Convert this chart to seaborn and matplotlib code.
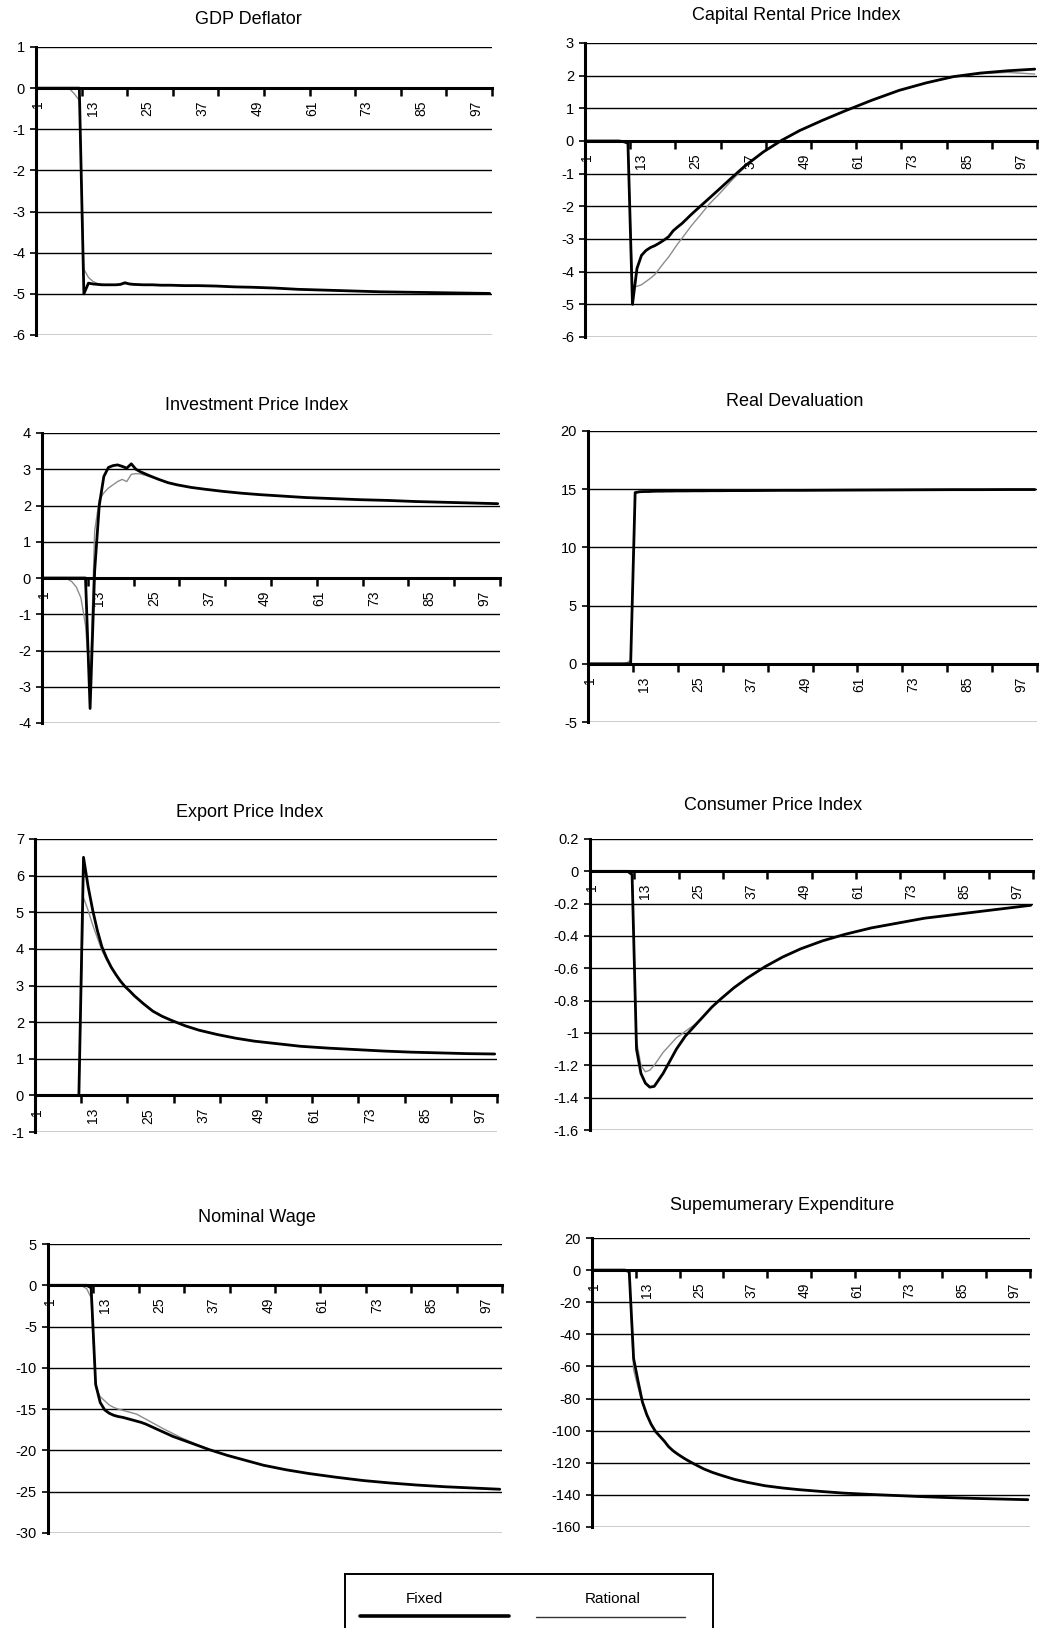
import numpy as np
import pandas as pd
import matplotlib
matplotlib.use("Agg")
import matplotlib.pyplot as plt
from matplotlib.ticker import FixedLocator, FuncFormatter, NullFormatter
import seaborn as sns

sns.set_theme(style="white")
plt.rcParams["font.family"] = ["Liberation Sans", "DejaVu Sans"]
plt.rcParams["axes.unicode_minus"] = False

# ---------------- data ----------------
periods = [1, 6, 7, 8, 9, 10, 11, 12, 13, 14, 15, 16, 17, 18, 19, 20, 21, 22,
           24, 26, 28, 30, 33, 36, 40, 44, 48, 53, 58, 64, 70, 76, 82, 88, 94, 100]
xtick_labels = [1, 13, 25, 37, 49, 61, 73, 85, 97]

gdp_fixed = [0, 0, 0, 0, 0, 0, -5.0, -4.74, -4.76, -4.77, -4.78, -4.78, -4.78, -4.78, -4.77, -4.73, -4.76, -4.77,
             -4.78, -4.78, -4.79, -4.79, -4.80, -4.80, -4.81, -4.83, -4.84, -4.86, -4.89, -4.91, -4.93, -4.95, -4.96, -4.97, -4.98, -4.99]
gdp_rational = [0, 0, 0, -0.03, -0.15, -0.3, -4.4, -4.6, -4.7, -4.75, -4.77, -4.78, -4.78, -4.78, -4.78, -4.75, -4.77, -4.78,
                -4.78, -4.78, -4.79, -4.79, -4.80, -4.80, -4.81, -4.83, -4.84, -4.86, -4.89, -4.91, -4.93, -4.95, -4.96, -4.97, -4.98, -4.99]

cap_fixed = [0, 0, 0, 0, -0.02, -0.06, -5.0, -3.9, -3.5, -3.35, -3.26, -3.2, -3.12, -3.03, -2.93, -2.75, -2.63, -2.52,
             -2.25, -2.0, -1.75, -1.5, -1.12, -0.75, -0.33, 0.02, 0.32, 0.63, 0.92, 1.25, 1.55, 1.78, 1.97, 2.08, 2.15, 2.2]
cap_rational = [0, 0, 0, 0, -0.02, -0.1, -4.45, -4.45, -4.4, -4.3, -4.2, -4.08, -3.9, -3.72, -3.55, -3.35, -3.15, -2.97,
                -2.6, -2.27, -1.93, -1.65, -1.2, -0.78, -0.34, 0.02, 0.32, 0.63, 0.92, 1.25, 1.55, 1.78, 1.96, 2.06, 2.1, 2.05]

inv_fixed = [0, 0, 0, 0, 0, 0, -3.6, 0.2, 2.0, 2.8, 3.05, 3.1, 3.12, 3.08, 3.03, 3.15, 3.0, 2.93,
             2.82, 2.72, 2.63, 2.57, 2.5, 2.45, 2.39, 2.34, 2.3, 2.26, 2.22, 2.19, 2.16, 2.14, 2.11, 2.09, 2.07, 2.05]
inv_rational = [0, -0.02, -0.1, -0.25, -0.55, -1.3, -3.0, 1.3, 2.15, 2.35, 2.48, 2.57, 2.66, 2.72, 2.66, 2.86, 2.88, 2.87,
                2.8, 2.72, 2.63, 2.57, 2.5, 2.45, 2.39, 2.34, 2.3, 2.26, 2.22, 2.19, 2.16, 2.14, 2.11, 2.09, 2.07, 2.05]

dev_fixed = [0, 0, 0, 0, 0, 0, 14.7, 14.78, 14.8, 14.8, 14.82, 14.83, 14.83, 14.84, 14.84, 14.85, 14.85, 14.85,
             14.86, 14.86, 14.87, 14.87, 14.88, 14.88, 14.89, 14.9, 14.9, 14.91, 14.92, 14.93, 14.94, 14.95, 14.96, 14.96, 14.97, 14.97]
dev_rational = [0, 0, 0, 0, 0.05, 0.3, 14.8, 14.8, 14.81, 14.82, 14.83, 14.84, 14.84, 14.85, 14.85, 14.86, 14.86, 14.86,
                14.87, 14.87, 14.88, 14.88, 14.89, 14.89, 14.9, 14.91, 14.91, 14.92, 14.93, 14.94, 14.95, 14.96, 14.97, 14.97, 14.98, 14.98]

exp_fixed = [0, 0, 0, 0, 0, 0, 6.5, 5.7, 5.05, 4.5, 4.05, 3.75, 3.5, 3.3, 3.12, 2.97, 2.85, 2.72,
             2.5, 2.3, 2.16, 2.05, 1.9, 1.78, 1.66, 1.56, 1.48, 1.41, 1.34, 1.29, 1.25, 1.21, 1.18, 1.16, 1.14, 1.13]
exp_rational = [0, 0, 0, 0, 0, 0, 5.4, 5.05, 4.65, 4.3, 3.95, 3.7, 3.48, 3.3, 3.12, 2.97, 2.85, 2.72,
                2.5, 2.3, 2.16, 2.05, 1.9, 1.78, 1.66, 1.56, 1.48, 1.41, 1.34, 1.29, 1.25, 1.21, 1.18, 1.16, 1.14, 1.13]

cpi_fixed = [0, 0, 0, 0, 0, -0.02, -1.1, -1.25, -1.31, -1.335, -1.33, -1.29, -1.25, -1.2, -1.15, -1.1, -1.06, -1.02,
             -0.96, -0.9, -0.84, -0.79, -0.72, -0.66, -0.59, -0.53, -0.48, -0.43, -0.39, -0.35, -0.32, -0.29, -0.27, -0.25, -0.23, -0.21]
cpi_rational = [0, 0, 0, 0, 0, -0.02, -1.05, -1.2, -1.24, -1.23, -1.2, -1.16, -1.12, -1.09, -1.06, -1.03, -1.01, -0.99,
                -0.95, -0.9, -0.84, -0.79, -0.72, -0.66, -0.59, -0.53, -0.48, -0.43, -0.39, -0.35, -0.32, -0.29, -0.27, -0.25, -0.23, -0.21]

wage_fixed = [0, 0, 0, 0, 0, -0.3, -12.0, -14.2, -15.1, -15.5, -15.75, -15.9, -16.0, -16.15, -16.3, -16.45, -16.6, -16.8,
              -17.3, -17.8, -18.3, -18.7, -19.3, -19.9, -20.6, -21.2, -21.8, -22.35, -22.8, -23.25, -23.65, -23.95, -24.2, -24.4, -24.55, -24.7]
wage_rational = [0, 0, 0, -0.1, -0.4, -1.5, -12.3, -13.5, -14.0, -14.5, -14.8, -15.0, -15.15, -15.3, -15.45, -15.6, -15.9, -16.2,
                 -16.8, -17.4, -17.95, -18.5, -19.2, -19.9, -20.6, -21.2, -21.8, -22.35, -22.8, -23.25, -23.65, -23.95, -24.2, -24.4, -24.55, -24.7]

sup_fixed = [0, 0, 0, 0, -1, -55, -69, -82, -90, -96, -100.5, -103.5, -106.5, -110, -112.5, -114.5, -116.3, -118,
             -121, -123.8, -126, -127.8, -130.3, -132.2, -134.3, -135.7, -136.8, -137.9, -138.9, -139.7, -140.4, -141.1, -141.7, -142.2, -142.6, -143]
sup_rational = [0, 0, 0, 0, -1, -62, -73, -83, -90, -96, -100.5, -103.5, -106.5, -110, -112.5, -114.5, -116.3, -118,
                -121, -123.8, -126, -127.8, -130.3, -132.2, -134.3, -135.7, -136.8, -137.9, -138.9, -139.7, -140.4, -141.1, -141.7, -142.2, -142.6, -143]

titles = ["GDP Deflator", "Capital Rental Price Index", "Investment Price Index", "Real Devaluation",
          "Export Price Index", "Consumer Price Index", "Nominal Wage", "Supemumerary Expenditure"]
yticks_list = [
    [-6, -5, -4, -3, -2, -1, 0, 1],
    [-6, -5, -4, -3, -2, -1, 0, 1, 2, 3],
    [-4, -3, -2, -1, 0, 1, 2, 3, 4],
    [-5, 0, 5, 10, 15, 20],
    [-1, 0, 1, 2, 3, 4, 5, 6, 7],
    [-1.6, -1.4, -1.2, -1.0, -0.8, -0.6, -0.4, -0.2, 0, 0.2],
    [-30, -25, -20, -15, -10, -5, 0, 5],
    [-160, -140, -120, -100, -80, -60, -40, -20, 0, 20],
]
series = [(gdp_fixed, gdp_rational), (cap_fixed, cap_rational), (inv_fixed, inv_rational),
          (dev_fixed, dev_rational), (exp_fixed, exp_rational), (cpi_fixed, cpi_rational),
          (wage_fixed, wage_rational), (sup_fixed, sup_rational)]

# ---------------- layout (pixels) ----------------
W, H = 1055, 1628
rects = [  # x0, x1, ytop, ybottom
    (36, 492, 47, 335), (585, 1037, 43, 337),
    (42, 500, 433, 723), (588, 1037, 431, 722),
    (35, 497, 839, 1132), (590, 1033, 839, 1130),
    (48, 502, 1244, 1533), (592, 1030, 1238, 1527),
]
title_pos = [(248, 19), (796, 15), (257, 405), (795, 402),
             (250, 812), (773, 805), (257, 1217), (782, 1206)]

fig = plt.figure(figsize=(W / 100, H / 100), dpi=100)
fig.patch.set_facecolor("white")


def fmt(v, pos):
    if abs(v) < 1e-9:
        return "0"
    return "%g" % round(v, 2)


for i in range(8):
    x0, x1, yt, yb = rects[i]
    ax = fig.add_axes([x0 / W, 1 - yb / H, (x1 - x0) / W, (yb - yt) / H])
    ax.set_facecolor("white")
    fixed, rational = series[i]
    sns.lineplot(x=periods, y=rational, ax=ax, color="#8c8c8c", lw=1.0, zorder=3)
    sns.lineplot(x=periods, y=fixed, ax=ax, color="black", lw=2.0, zorder=4)
    yt_ = yticks_list[i]
    ax.set_xlim(0.5, 100.5)
    ax.set_ylim(yt_[0], yt_[-1])
    ax.set_yticks(yt_)
    ax.yaxis.set_major_formatter(FuncFormatter(fmt))
    ax.grid(axis="y", color="black", lw=1.0, zorder=1)
    ax.grid(axis="x", visible=False)
    for s in ["top", "right"]:
        ax.spines[s].set_visible(False)
    ax.spines["left"].set_color("black")
    ax.spines["left"].set_linewidth(2.2)
    ax.spines["bottom"].set_position(("data", 0))
    ax.spines["bottom"].set_color("black")
    ax.spines["bottom"].set_linewidth(2.2)
    ax.spines["bottom"].set_zorder(5)
    ax.tick_params(axis="y", direction="out", length=4, width=1.2, color="black",
                   labelsize=10.5, pad=4, left=True, labelcolor="black")
    ax.xaxis.set_major_locator(FixedLocator([10.5 + 10 * k for k in range(10)]))
    ax.xaxis.set_major_formatter(NullFormatter())
    ax.xaxis.set_minor_locator(FixedLocator(xtick_labels))
    ax.xaxis.set_minor_formatter(FuncFormatter(lambda v, p: "%d" % round(v)))
    ax.tick_params(axis="x", which="major", direction="out", length=6, width=1.8,
                   color="black", bottom=True)
    ax.tick_params(axis="x", which="minor", length=0, labelsize=10, pad=9,
                   labelrotation=90, bottom=True, labelcolor="black")
    ax.set_xlabel("")
    ax.set_ylabel("")
    tx, ty = title_pos[i]
    fig.text(tx / W, 1 - ty / H, titles[i], ha="center", va="center",
             fontsize=13, color="black")

# ---------------- legend box ----------------
lx0, lx1, lyt = 345, 713, 1574
lax = fig.add_axes([lx0 / W, 0, (lx1 - lx0) / W, (H - lyt) / H])
lax.set_xlim(0, 1)
lax.set_ylim(0, 1)
lax.set_xticks([])
lax.set_yticks([])
lax.set_facecolor("white")
for s in ["top", "left", "right"]:
    lax.spines[s].set_color("black")
    lax.spines[s].set_linewidth(1.4)
lax.spines["bottom"].set_visible(False)
lax.text(0.217, 0.54, "Fixed", ha="center", va="center", fontsize=11, color="black")
lax.text(0.728, 0.54, "Rational", ha="center", va="center", fontsize=11, color="black")
lax.plot([0.04, 0.446], [0.22, 0.22], color="black", lw=2.6)
lax.plot([0.52, 0.924], [0.2, 0.2], color="#333333", lw=1.0)

fig.savefig("out.png", dpi=100, facecolor="white")
